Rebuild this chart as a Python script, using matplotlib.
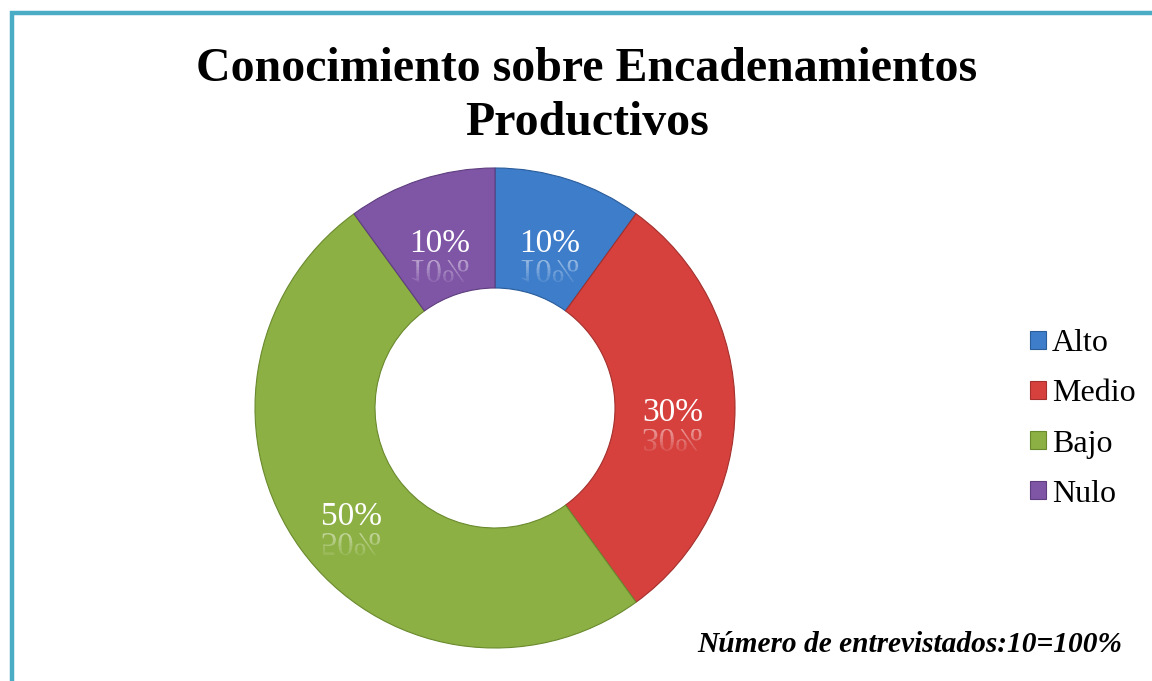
import numpy as np
import matplotlib.pyplot as plt
from matplotlib.patches import Rectangle, PathPatch
from matplotlib.textpath import TextPath
from matplotlib.font_manager import FontProperties
from matplotlib.transforms import Affine2D

categorias = ["Alto", "Medio", "Bajo", "Nulo"]
porcentajes = [10, 30, 50, 10]
colores = ["#3D7DCA", "#D6413E", "#8CB043", "#7F55A6"]
bordes = ["#2A5C9A", "#A3302D", "#6A8A2E", "#5E3E7E"]
titulo = "Conocimiento sobre Encadenamientos\nProductivos"
nota = "Número de entrevistados:10=100%"

serif = "Liberation Serif"
plt.rcParams['font.family'] = [serif, 'DejaVu Serif']

W, H = 1152, 681
fig = plt.figure(figsize=(W / 100, H / 100), dpi=100)

# marco turquesa (sale por la derecha y por abajo)
fig.patches.append(Rectangle((11.5 / W, -0.2), 1.5, 1.2 - 12.5 / H,
                             transform=fig.transFigure, fill=False,
                             edgecolor="#4BACC6", lw=3.2))

# anillo
cx, cy, R = 495, 408, 240
ax = fig.add_axes([(cx - R) / W, (H - cy - R) / H, 2 * R / W, 2 * R / H])
wedges, _ = ax.pie(porcentajes, colors=colores, startangle=90, counterclock=False,
                   radius=1, wedgeprops=dict(width=0.5, linewidth=0.8))
for w, b in zip(wedges, bordes):
    w.set_edgecolor(b)
ax.set_xlim(-1, 1)
ax.set_ylim(-1, 1)
ax.axis("off")

# etiquetas con reflejo que se desvanece
fp = FontProperties(family=serif)
px = 1 / R
for v, w in zip(porcentajes, wedges):
    mid = (w.theta1 + w.theta2) / 2
    x = 0.74 * np.cos(np.radians(mid))
    y = 0.74 * np.sin(np.radians(mid)) - 2 * px
    s = f"{v}%"
    base = y - 11 * px
    ax.text(x, base, s, color="white", fontsize=24, ha="center", va="baseline")
    tp = TextPath((0, 0), s, size=33, prop=fp)
    bb = tp.get_extents()
    top = base - 8 * px
    tr = Affine2D().translate(-(bb.x0 + bb.x1) / 2, 0).scale(px, -px).translate(x, top)
    path = tr.transform_path(tp)
    nb = 8
    hgt = 26 * px
    for i in range(nb):
        band = Rectangle((x - 0.2, top - hgt * (i + 1) / nb), 0.4, hgt / nb,
                         transform=ax.transData, visible=False)
        ax.add_patch(band)
        pp = PathPatch(path, facecolor="white", edgecolor="none",
                       alpha=0.45 * (1 - i / nb))
        ax.add_patch(pp)
        pp.set_clip_path(band)

fig.text(587 / W, 1 - 96 / H, titulo, ha="center", va="center", fontsize=34.5,
         fontweight="bold", linespacing=1.28)

leg = fig.legend(wedges, categorias, loc="center left",
                 bbox_to_anchor=(1017 / W, 1 - 419 / H), frameon=False,
                 fontsize=23, handlelength=0.5, handleheight=0.5,
                 handletextpad=0.2, labelspacing=0.66, borderaxespad=0)

fig.text(1122 / W, 1 - 645 / H, nota, ha="right", va="center", fontsize=21.2,
         fontweight="bold", fontstyle="italic")

fig.savefig("out.png", dpi=100)
